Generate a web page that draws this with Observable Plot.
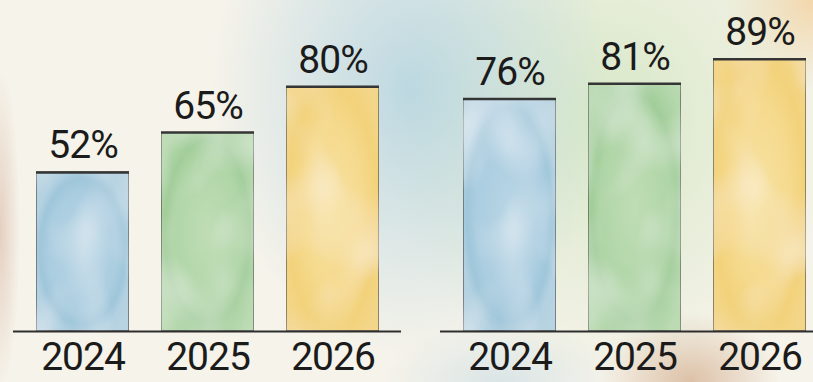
<!DOCTYPE html>
<html>
<head>
<meta charset="utf-8">
<script src="https://cdn.jsdelivr.net/npm/d3@7"></script>
<script src="https://cdn.jsdelivr.net/npm/@observablehq/plot@0.6"></script>
<style>
  html, body { margin: 0; padding: 0; overflow: hidden; }
  body {
    width: 813px; height: 382px;
    background-color: #f6f3ea;
    background-image:
      radial-gradient(ellipse 200px 270px at 410px 90px, rgba(165,205,222,0.7), rgba(165,205,222,0) 100%),
      radial-gradient(ellipse 230px 260px at 610px 120px, rgba(205,228,188,0.75), rgba(205,228,188,0) 100%),
      radial-gradient(ellipse 90px 90px at 813px 0px, rgba(243,205,150,0.75), rgba(243,205,150,0) 100%),
      radial-gradient(ellipse 90px 70px at 690px 382px, rgba(214,180,150,0.8), rgba(214,180,150,0) 100%),
      radial-gradient(ellipse 120px 60px at 500px 382px, rgba(190,215,226,0.5), rgba(190,215,226,0) 100%),
      radial-gradient(ellipse 20px 160px at 0px 230px, rgba(214,178,158,0.55), rgba(214,178,158,0) 100%);
  }
  #chart svg { background: transparent !important; display: block; }
  #chart svg g[aria-label="bar"] rect { filter: url(#wc); }
  #chart svg text { letter-spacing: -1px; }
</style>
</head>
<body>
<svg width="0" height="0" style="position:absolute">
  <defs>
    <radialGradient id="gBlue" cx="0.5" cy="0.5" r="0.62">
      <stop offset="0" stop-color="#b8d5e4"/>
      <stop offset="0.6" stop-color="#aacde0"/>
      <stop offset="0.74" stop-color="#9fc6da"/>
      <stop offset="0.86" stop-color="#b3d1e1"/>
      <stop offset="1" stop-color="#b8d3e1"/>
    </radialGradient>
    <radialGradient id="gGreen" cx="0.5" cy="0.5" r="0.62">
      <stop offset="0" stop-color="#c0ddb6"/>
      <stop offset="0.6" stop-color="#afd5a6"/>
      <stop offset="0.74" stop-color="#a2cd9a"/>
      <stop offset="0.86" stop-color="#acd3a4"/>
      <stop offset="1" stop-color="#b5d8ac"/>
    </radialGradient>
    <radialGradient id="gYellow" cx="0.5" cy="0.5" r="0.62">
      <stop offset="0" stop-color="#f7e2a4"/>
      <stop offset="0.55" stop-color="#f5d98c"/>
      <stop offset="0.8" stop-color="#f2d27a"/>
      <stop offset="1" stop-color="#f3d68a"/>
    </radialGradient>
    <filter id="wc" x="0" y="0" width="1" height="1">
      <feTurbulence type="fractalNoise" baseFrequency="0.018 0.012" numOctaves="2" seed="11" result="noise"/>
      <feColorMatrix in="noise" type="matrix"
        values="0 0 0 0 1  0 0 0 0 1  0 0 0 0 1  0.9 0 0 0 -0.38" result="light"/>
      <feComposite in="light" in2="SourceGraphic" operator="in" result="lightIn"/>
      <feMerge><feMergeNode in="SourceGraphic"/><feMergeNode in="lightIn"/></feMerge>
    </filter>
  </defs>
</svg>
<div id="chart"></div>
<script>
// ---- data ----
const years = ["2024", "2025", "2026"];
const groups = ["A", "B"];
const valuesA = [52, 65, 80];
const valuesB = [76, 81, 89];

const data = [
  ...years.map((y, i) => ({group: "A", year: y, value: valuesA[i]})),
  ...years.map((y, i) => ({group: "B", year: y, value: valuesB[i]}))
];

const chart = Plot.plot({
  width: 813,
  height: 382,
  marginLeft: 12,
  marginRight: -16,
  marginTop: 25,
  marginBottom: 51,
  style: {fontFamily: "Roboto, 'Noto Sans', sans-serif", fontSize: "39px", color: "#1b1b1b", background: "transparent"},
  fx: {domain: groups, padding: 0.091, axis: null, label: null},
  x: {domain: years, paddingInner: 0.26, paddingOuter: 0.17, axis: "bottom", tickSize: 0, tickPadding: 11, label: null},
  y: {domain: [0, 100], axis: null},
  color: {domain: years, range: ["url(#gBlue)", "url(#gGreen)", "url(#gYellow)"]},
  marks: [
    Plot.barY(data, {fx: "group", x: "year", y: "value", fill: "year", stroke: "#4a4a4a", strokeWidth: 1.2}),
    Plot.tickY(data, {fx: "group", x: "year", y: "value", stroke: "#353535", strokeWidth: 2.5}),
    Plot.ruleY([0], {stroke: "#2e2e2e", strokeWidth: 2.2}),
    Plot.text(data, {fx: "group", x: "year", y: "value", text: d => d.value + "%", lineAnchor: "bottom", dy: -14, fill: "#1b1b1b"})
  ]
});
document.getElementById("chart").appendChild(chart);
</script>
</body>
</html>
